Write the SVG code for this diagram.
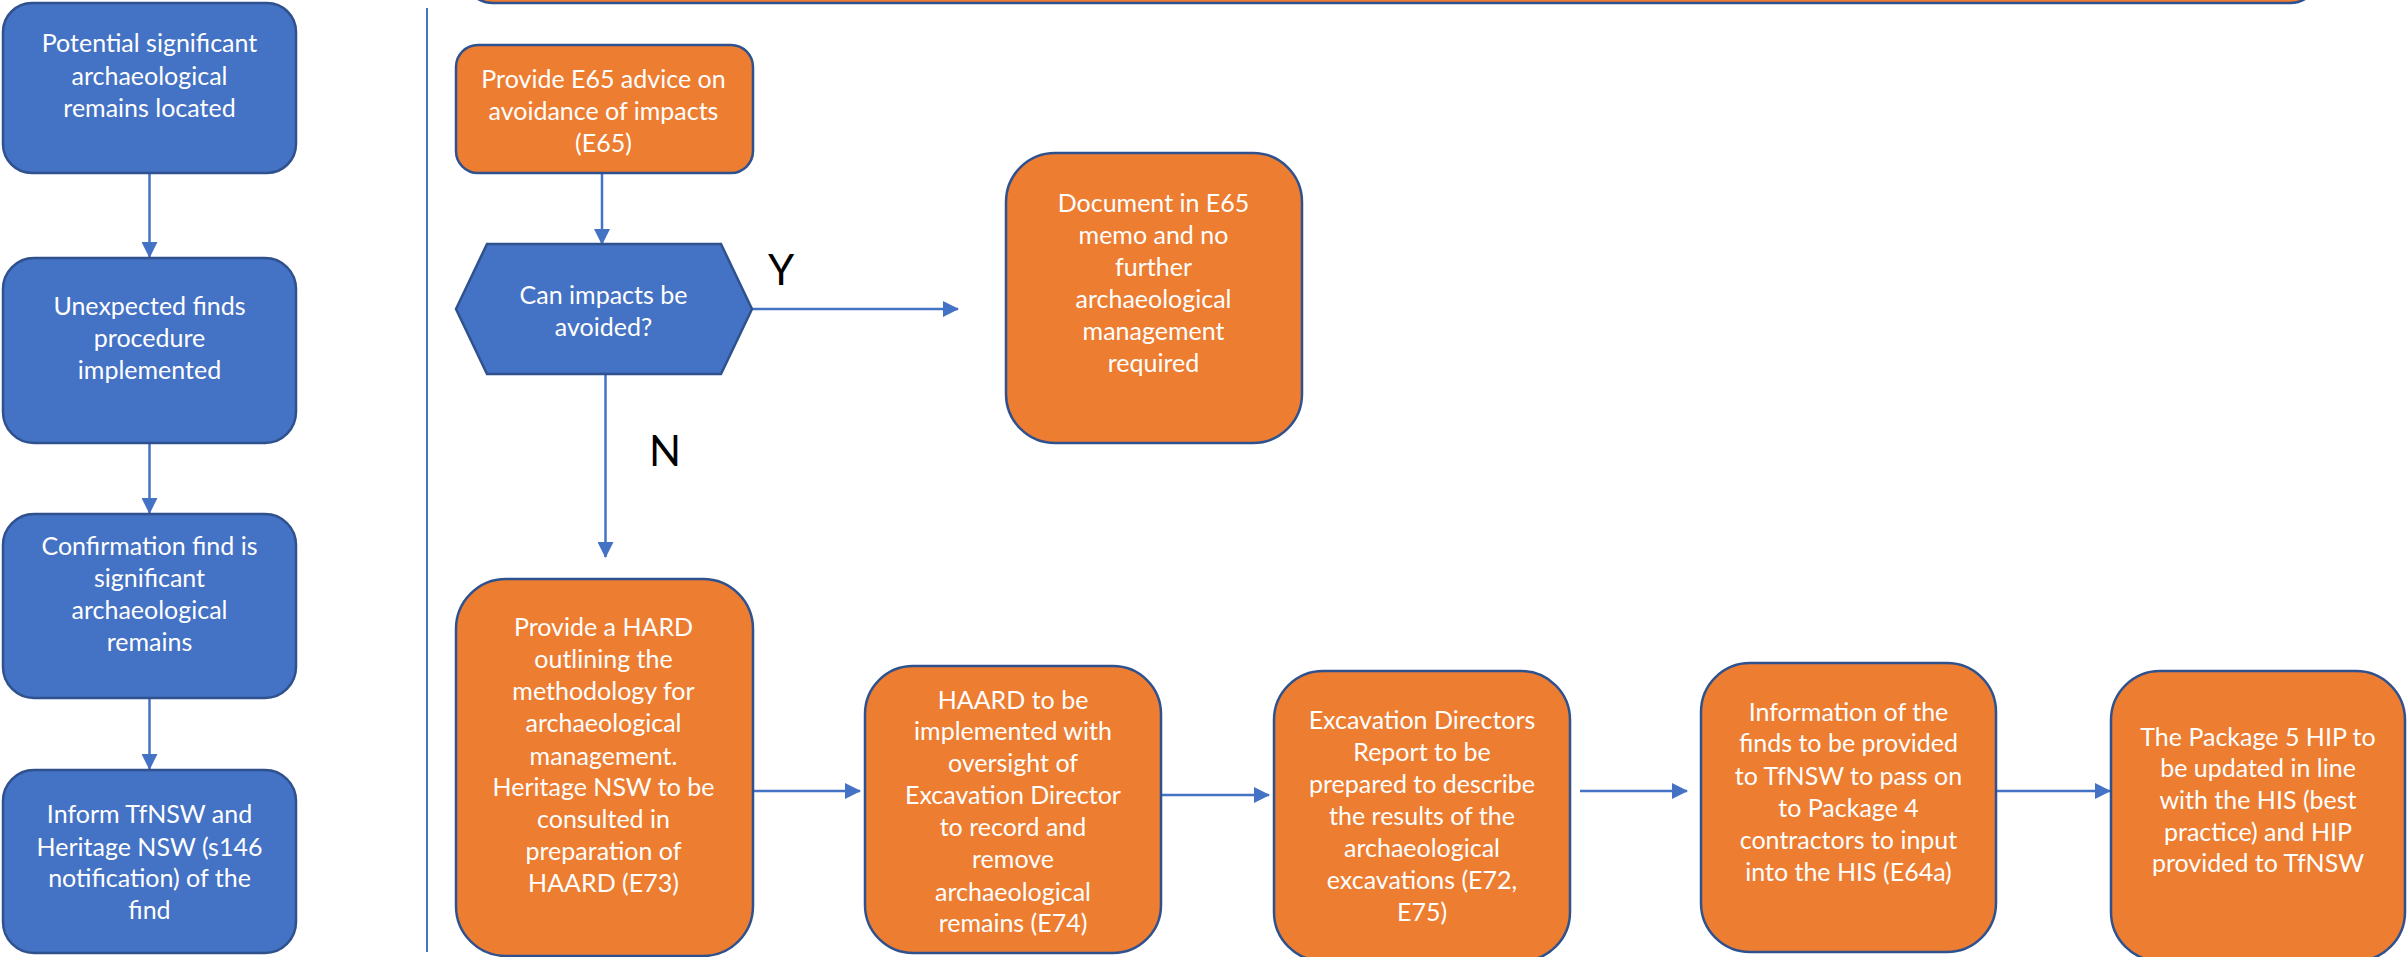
<svg xmlns="http://www.w3.org/2000/svg" width="2407" height="957" viewBox="0 0 2407 957">
<style>
.blue{fill:#4472C4;stroke:#2F528F;stroke-width:2.5}
.orange{fill:#ED7D31;stroke:#2F528F;stroke-width:2.5}
.t{font-family:Lato,"Liberation Sans",sans-serif;font-size:25px;fill:#FFFFFF;text-anchor:middle}
.lbl{font-family:Lato,"Liberation Sans",sans-serif;font-size:42px;fill:#000000;text-anchor:middle}
.c{fill:none;stroke:#4472C4;stroke-width:2.5}
</style>
<defs>
<marker id="ah" markerUnits="userSpaceOnUse" markerWidth="16" markerHeight="16" refX="15" refY="8" orient="auto">
<path d="M0,0 L16,8 L0,16 Z" fill="#4472C4"/>
</marker>
</defs>
<rect width="2407" height="957" fill="#FFFFFF"/>
<line x1="427" y1="8" x2="427" y2="952" stroke="#4472C4" stroke-width="2"/>
<rect x="463" y="-80" width="1857" height="83" rx="30" class="orange"/>

<g id="connectors">
<line x1="149.5" y1="173" x2="149.5" y2="257" class="c" marker-end="url(#ah)"/>
<line x1="149.5" y1="443" x2="149.5" y2="513" class="c" marker-end="url(#ah)"/>
<line x1="149.5" y1="698" x2="149.5" y2="769" class="c" marker-end="url(#ah)"/>
<line x1="602" y1="173" x2="602" y2="244" class="c" marker-end="url(#ah)"/>
<line x1="752" y1="309" x2="958" y2="309" class="c" marker-end="url(#ah)"/>
<line x1="605.5" y1="374" x2="605.5" y2="557" class="c" marker-end="url(#ah)"/>
<line x1="752" y1="791" x2="860" y2="791" class="c" marker-end="url(#ah)"/>
<line x1="1161" y1="795" x2="1269" y2="795" class="c" marker-end="url(#ah)"/>
<line x1="1580" y1="791" x2="1687" y2="791" class="c" marker-end="url(#ah)"/>
<line x1="1996" y1="791" x2="2110" y2="791" class="c" marker-end="url(#ah)"/>
</g>

<g id="n1">
<rect x="3" y="3" width="293" height="170" rx="29" class="blue"/>
<text class="t" x="149.5" y="52">Potential significant</text>
<text class="t" x="149.5" y="85">archaeological</text>
<text class="t" x="149.5" y="117">remains located</text>
</g>
<g id="n2">
<rect x="3" y="258" width="293" height="185" rx="31" class="blue"/>
<text class="t" x="149.5" y="315">Unexpected finds</text>
<text class="t" x="149.5" y="347">procedure</text>
<text class="t" x="149.5" y="379">implemented</text>
</g>
<g id="n3">
<rect x="3" y="514" width="293" height="184" rx="31" class="blue"/>
<text class="t" x="149.5" y="555">Confirmation find is</text>
<text class="t" x="149.5" y="587">significant</text>
<text class="t" x="149.5" y="619">archaeological</text>
<text class="t" x="149.5" y="651">remains</text>
</g>
<g id="n4">
<rect x="3" y="770" width="293" height="183" rx="31" class="blue"/>
<text class="t" x="149.5" y="823">Inform TfNSW and</text>
<text class="t" x="149.5" y="856">Heritage NSW (s146</text>
<text class="t" x="149.5" y="887">notification) of the</text>
<text class="t" x="149.5" y="919">find</text>
</g>

<g id="e65">
<rect x="456" y="45" width="297" height="128" rx="22" class="orange"/>
<text class="t" x="603.5" y="88">Provide E65 advice on</text>
<text class="t" x="603.5" y="120">avoidance of impacts</text>
<text class="t" x="603.5" y="152">(E65)</text>
</g>
<g id="decision">
<polygon points="456,309 487,244 721,244 752,309 721,374 487,374" class="blue"/>
<text class="t" x="603.5" y="304">Can impacts be</text>
<text class="t" x="603.5" y="336">avoided?</text>
</g>
<text class="lbl" x="781" y="285">Y</text>
<text class="lbl" x="665" y="466">N</text>

<g id="doc">
<rect x="1006" y="153" width="296" height="290" rx="49" class="orange"/>
<text class="t" x="1153.5" y="212">Document in E65</text>
<text class="t" x="1153.5" y="244">memo and no</text>
<text class="t" x="1153.5" y="276">further</text>
<text class="t" x="1153.5" y="308">archaeological</text>
<text class="t" x="1153.5" y="340">management</text>
<text class="t" x="1153.5" y="372">required</text>
</g>

<g id="hard">
<rect x="456" y="579" width="297" height="377" rx="50" class="orange"/>
<text class="t" x="603.5" y="636">Provide a HARD</text>
<text class="t" x="603.5" y="668">outlining the</text>
<text class="t" x="603.5" y="700">methodology for</text>
<text class="t" x="603.5" y="732">archaeological</text>
<text class="t" x="603.5" y="765">management.</text>
<text class="t" x="603.5" y="796">Heritage NSW to be</text>
<text class="t" x="603.5" y="828">consulted in</text>
<text class="t" x="603.5" y="860">preparation of</text>
<text class="t" x="603.5" y="892">HAARD (E73)</text>
</g>

<g id="haard">
<rect x="865" y="666" width="296" height="287" rx="48" class="orange"/>
<text class="t" x="1013" y="709">HAARD to be</text>
<text class="t" x="1013" y="740">implemented with</text>
<text class="t" x="1013" y="772">oversight of</text>
<text class="t" x="1013" y="804">Excavation Director</text>
<text class="t" x="1013" y="836">to record and</text>
<text class="t" x="1013" y="868">remove</text>
<text class="t" x="1013" y="901">archaeological</text>
<text class="t" x="1013" y="932">remains (E74)</text>
</g>

<g id="excav">
<rect x="1274" y="671" width="296" height="290" rx="49" class="orange"/>
<text class="t" x="1422" y="729">Excavation Directors</text>
<text class="t" x="1422" y="761">Report to be</text>
<text class="t" x="1422" y="793">prepared to describe</text>
<text class="t" x="1422" y="825">the results of the</text>
<text class="t" x="1422" y="857">archaeological</text>
<text class="t" x="1422" y="889">excavations (E72,</text>
<text class="t" x="1422" y="921">E75)</text>
</g>

<g id="info">
<rect x="1701" y="663" width="295" height="289" rx="49" class="orange"/>
<text class="t" x="1848.5" y="721">Information of the</text>
<text class="t" x="1848.5" y="752">finds to be provided</text>
<text class="t" x="1848.5" y="785">to TfNSW to pass on</text>
<text class="t" x="1848.5" y="817">to Package 4</text>
<text class="t" x="1848.5" y="849">contractors to input</text>
<text class="t" x="1848.5" y="881">into the HIS (E64a)</text>
</g>

<g id="hip">
<rect x="2111" y="671" width="294" height="290" rx="49" class="orange"/>
<text class="t" x="2258" y="746">The Package 5 HIP to</text>
<text class="t" x="2258" y="777">be updated in line</text>
<text class="t" x="2258" y="809">with the HIS (best</text>
<text class="t" x="2258" y="841">practice) and HIP</text>
<text class="t" x="2258" y="872">provided to TfNSW</text>
</g>
</svg>
